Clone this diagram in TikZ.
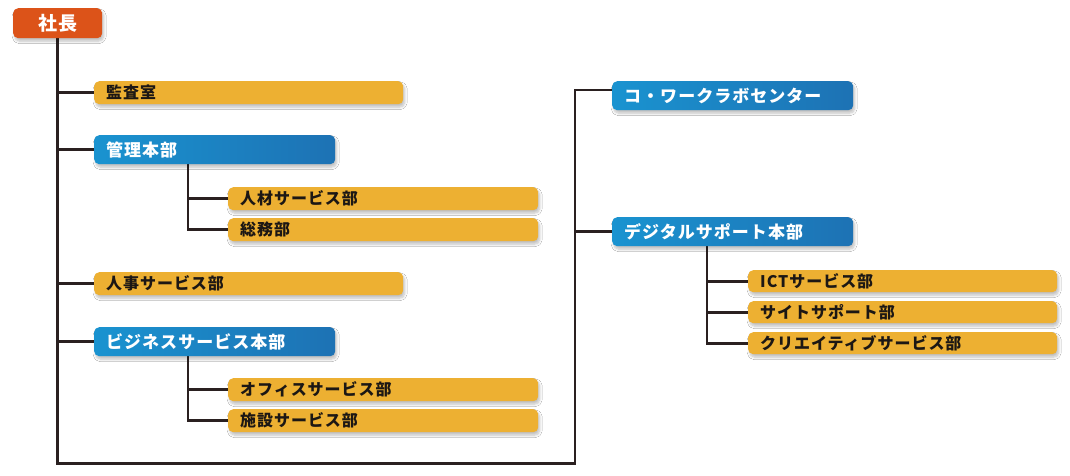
\documentclass[tikz,border=0pt]{standalone}
\usepackage{fontspec}
\newfontfamily\jp{Noto Sans CJK JP}[LetterSpace=6]
\usetikzlibrary{shadows,shadows.blur,calc,backgrounds}
\definecolor{ceoC}{HTML}{DC5319}
\definecolor{yelC}{HTML}{EDB032}
\definecolor{bluL}{HTML}{1A93D0}
\definecolor{bluR}{HTML}{1D72B4}
\definecolor{lineC}{HTML}{2A2020}
\definecolor{txtC}{HTML}{1C1714}
\tikzset{
  base/.style={anchor=north west, rounded corners=5pt, inner ysep=0pt, inner xsep=12pt,
    align=left,
    blur shadow={shadow xshift=1.5pt, shadow yshift=-3pt, shadow opacity=25,
      shadow blur steps=6, shadow blur radius=2.5pt}},
  ceobox/.style={base, fill=ceoC, text=white, inner xsep=0pt, minimum width=89pt,
    minimum height=30pt, align=center, font=\jp\bfseries\fontsize{19pt}{19pt}\selectfont},
  yel/.style={base, fill=yelC, text=txtC, minimum height=#1,
    font=\jp\bfseries\fontsize{16pt}{16pt}\selectfont},
  yelA/.style={yel=23pt, text width=285pt},
  yelB/.style={yel=23pt, text width=286pt},
  yelC/.style={yel=22pt, text width=285pt},
  blu/.style={base, left color=bluL, right color=bluR, text=white, minimum height=29pt,
    text width=217pt, font=\jp\bfseries\fontsize{17pt}{17pt}\selectfont},
  conn/.style={draw=lineC, line width=2.7pt}
}
\begin{document}
\begin{tikzpicture}[x=1pt,y=-1pt]
\useasboundingbox (0,0) rectangle (1070,476);
% nodes
\node[ceobox] (ceo) at (13,8) {社長};
\node[yelA] (kansa) at (94,81) {監査室};
\node[blu] (kanri) at (94,135) {管理本部};
\node[yelB] (jinzai) at (228,187) {人材サービス部};
\node[yelB] (somu) at (228,218) {総務部};
\node[yelA] (jinji) at (94,272) {人事サービス部};
\node[blu] (biz) at (94,327) {ビジネスサービス本部};
\node[yelB] (office) at (228,378) {オフィスサービス部};
\node[yelB] (shisetsu) at (228,409) {施設サービス部};
\node[blu] (cowork) at (612,81) {コ・ワークラボセンター};
\node[blu] (digital) at (612,217) {デジタルサポート本部};
\node[yelC] (ict) at (748,270) {ICTサービス部};
\node[yelC] (site) at (748,301) {サイトサポート部};
\node[yelC] (creative) at (748,332) {クリエイティブサービス部};
% coordinates
\coordinate (bl) at ($(ceo.south)+(0,425)$);
\coordinate (br) at (575,463);
\coordinate (cw) at ($(cowork.north west)+(0,9)$);
\coordinate (k1) at ($(kanri.south west)+(94,0)$);
\coordinate (b1) at ($(biz.south west)+(94,0)$);
\coordinate (d1) at ($(digital.south west)+(95,0)$);
\begin{scope}[on background layer]
\fill[white] (0,0) rectangle (1070,476);
\draw[conn] (ceo.south) -- (bl) -- (br |- bl) |- (cw);
\draw[conn] (br |- digital.west) -- (digital.west);
\draw[conn] (ceo.south |- kansa.west) -- (kansa.west);
\draw[conn] (ceo.south |- kanri.west) -- (kanri.west);
\draw[conn] (ceo.south |- jinji.west) -- (jinji.west);
\draw[conn] (ceo.south |- biz.west) -- (biz.west);
\draw[conn] (k1) |- (somu.west);
\draw[conn] (k1 |- jinzai.west) -- (jinzai.west);
\draw[conn] (b1) |- (shisetsu.west);
\draw[conn] (b1 |- office.west) -- (office.west);
\draw[conn] (d1) |- (creative.west);
\draw[conn] (d1 |- ict.west) -- (ict.west);
\draw[conn] (d1 |- site.west) -- (site.west);
\end{scope}
\end{tikzpicture}
\end{document}
